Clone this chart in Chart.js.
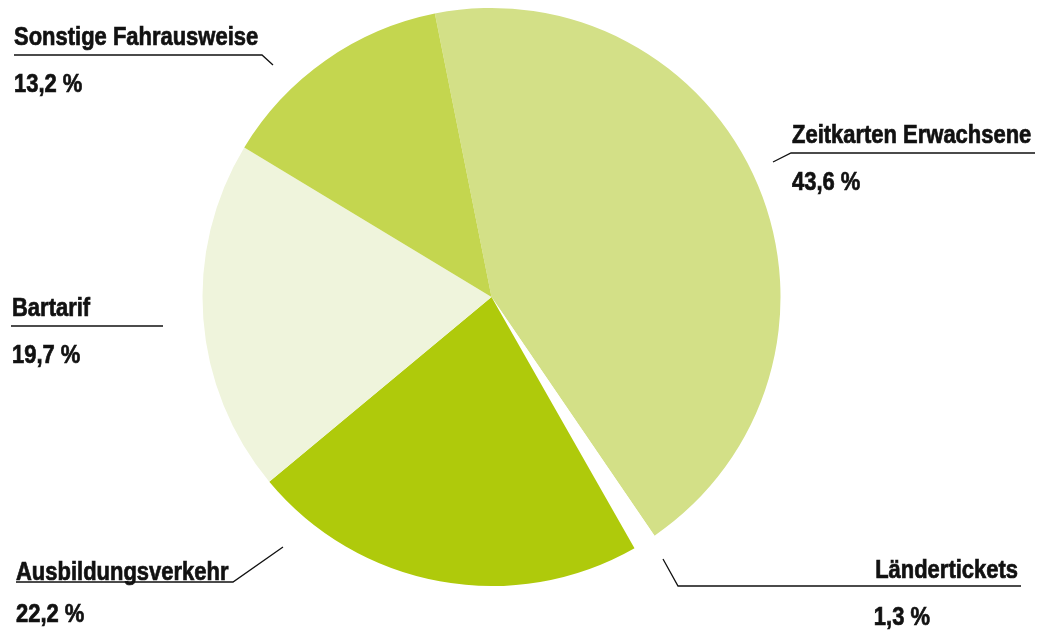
<!DOCTYPE html>
<html>
<head>
<meta charset="utf-8">
<script src="https://cdn.jsdelivr.net/npm/chart.js@4.4.1/dist/chart.umd.min.js"></script>
<style>
html,body{margin:0;padding:0;background:#fff;}
#wrap{width:1039px;height:633px;position:relative;}
</style>
</head>
<body>
<div id="wrap"><canvas id="c" width="1039" height="633"></canvas></div>
<script>
const categories = ["Zeitkarten Erwachsene", "Ländertickets", "Ausbildungsverkehr", "Bartarif", "Sonstige Fahrausweise"];
const shares = [43.6, 1.3, 22.2, 19.7, 13.2];
const valueLabels = ["43,6 %", "1,3 %", "22,2 %", "19,7 %", "13,2 %"];
const sliceColors = ["#d3e087", "#ffffff", "#afca0b", "#eff4dc", "#c4d64f"];

// label layout: [textX, nameBaseline, valueBaseline, align, leader polyline]
const labelLayout = [
  {x: 792, nameY: 143, valY: 190, align: "left", line: [[773,162],[791,153],[1035,153]]},
  {x: 1018, nameY: 578, valY: 625, align: "right", valX: 930, line: [[663,559],[678,586],[1021,586]]},
  {x: 16, nameY: 580, valY: 622, align: "left", line: [[16,582],[233,582],[283,547]]},
  {x: 12, nameY: 316, valY: 363, align: "left", line: [[11,326],[163,326]]},
  {x: 14, nameY: 45, valY: 92, align: "left", line: [[14,55],[262,55],[273,65]]}
];

const FONT = '"Liberation Sans Narrow", "Arial Narrow", "Liberation Sans", sans-serif';
const XSCALE = 0.845;

function drawText(ctx, text, x, y, align) {
  ctx.save();
  ctx.translate(x, y);
  ctx.scale(XSCALE, 1);
  ctx.textAlign = align;
  ctx.lineWidth = 0.7;
  ctx.strokeText(text, 0, 0);
  ctx.fillText(text, 0, 0);
  ctx.restore();
}

const labelPlugin = {
  id: "labels",
  afterDraw(chart) {
    const ctx = chart.ctx;
    ctx.save();
    ctx.fillStyle = "#111";
    ctx.strokeStyle = "#111";
    ctx.font = "bold 26px " + FONT;
    ctx.textBaseline = "alphabetic";
    labelLayout.forEach((L, i) => {
      ctx.lineWidth = 1.3;
      ctx.beginPath();
      L.line.forEach((p, j) => j ? ctx.lineTo(p[0], p[1]) : ctx.moveTo(p[0], p[1]));
      ctx.stroke();
      drawText(ctx, categories[i], L.x, L.nameY, L.align);
      if (L.valX !== undefined) {
        drawText(ctx, valueLabels[i], L.valX, L.valY, "right");
      } else {
        drawText(ctx, valueLabels[i], L.x, L.valY, L.align);
      }
    });
    ctx.restore();
  }
};

new Chart(document.getElementById("c"), {
  type: "pie",
  data: {
    labels: categories,
    datasets: [{
      data: shares,
      backgroundColor: sliceColors,
      borderWidth: 0,
      hoverOffset: 0
    }]
  },
  options: {
    responsive: false,
    animation: false,
    rotation: -11.3,
    layout: {padding: {left: 202.5, right: 258.5, top: 8, bottom: 47}},
    plugins: {legend: {display: false}, tooltip: {enabled: false}},
    events: []
  },
  plugins: [labelPlugin]
});
</script>
</body>
</html>
